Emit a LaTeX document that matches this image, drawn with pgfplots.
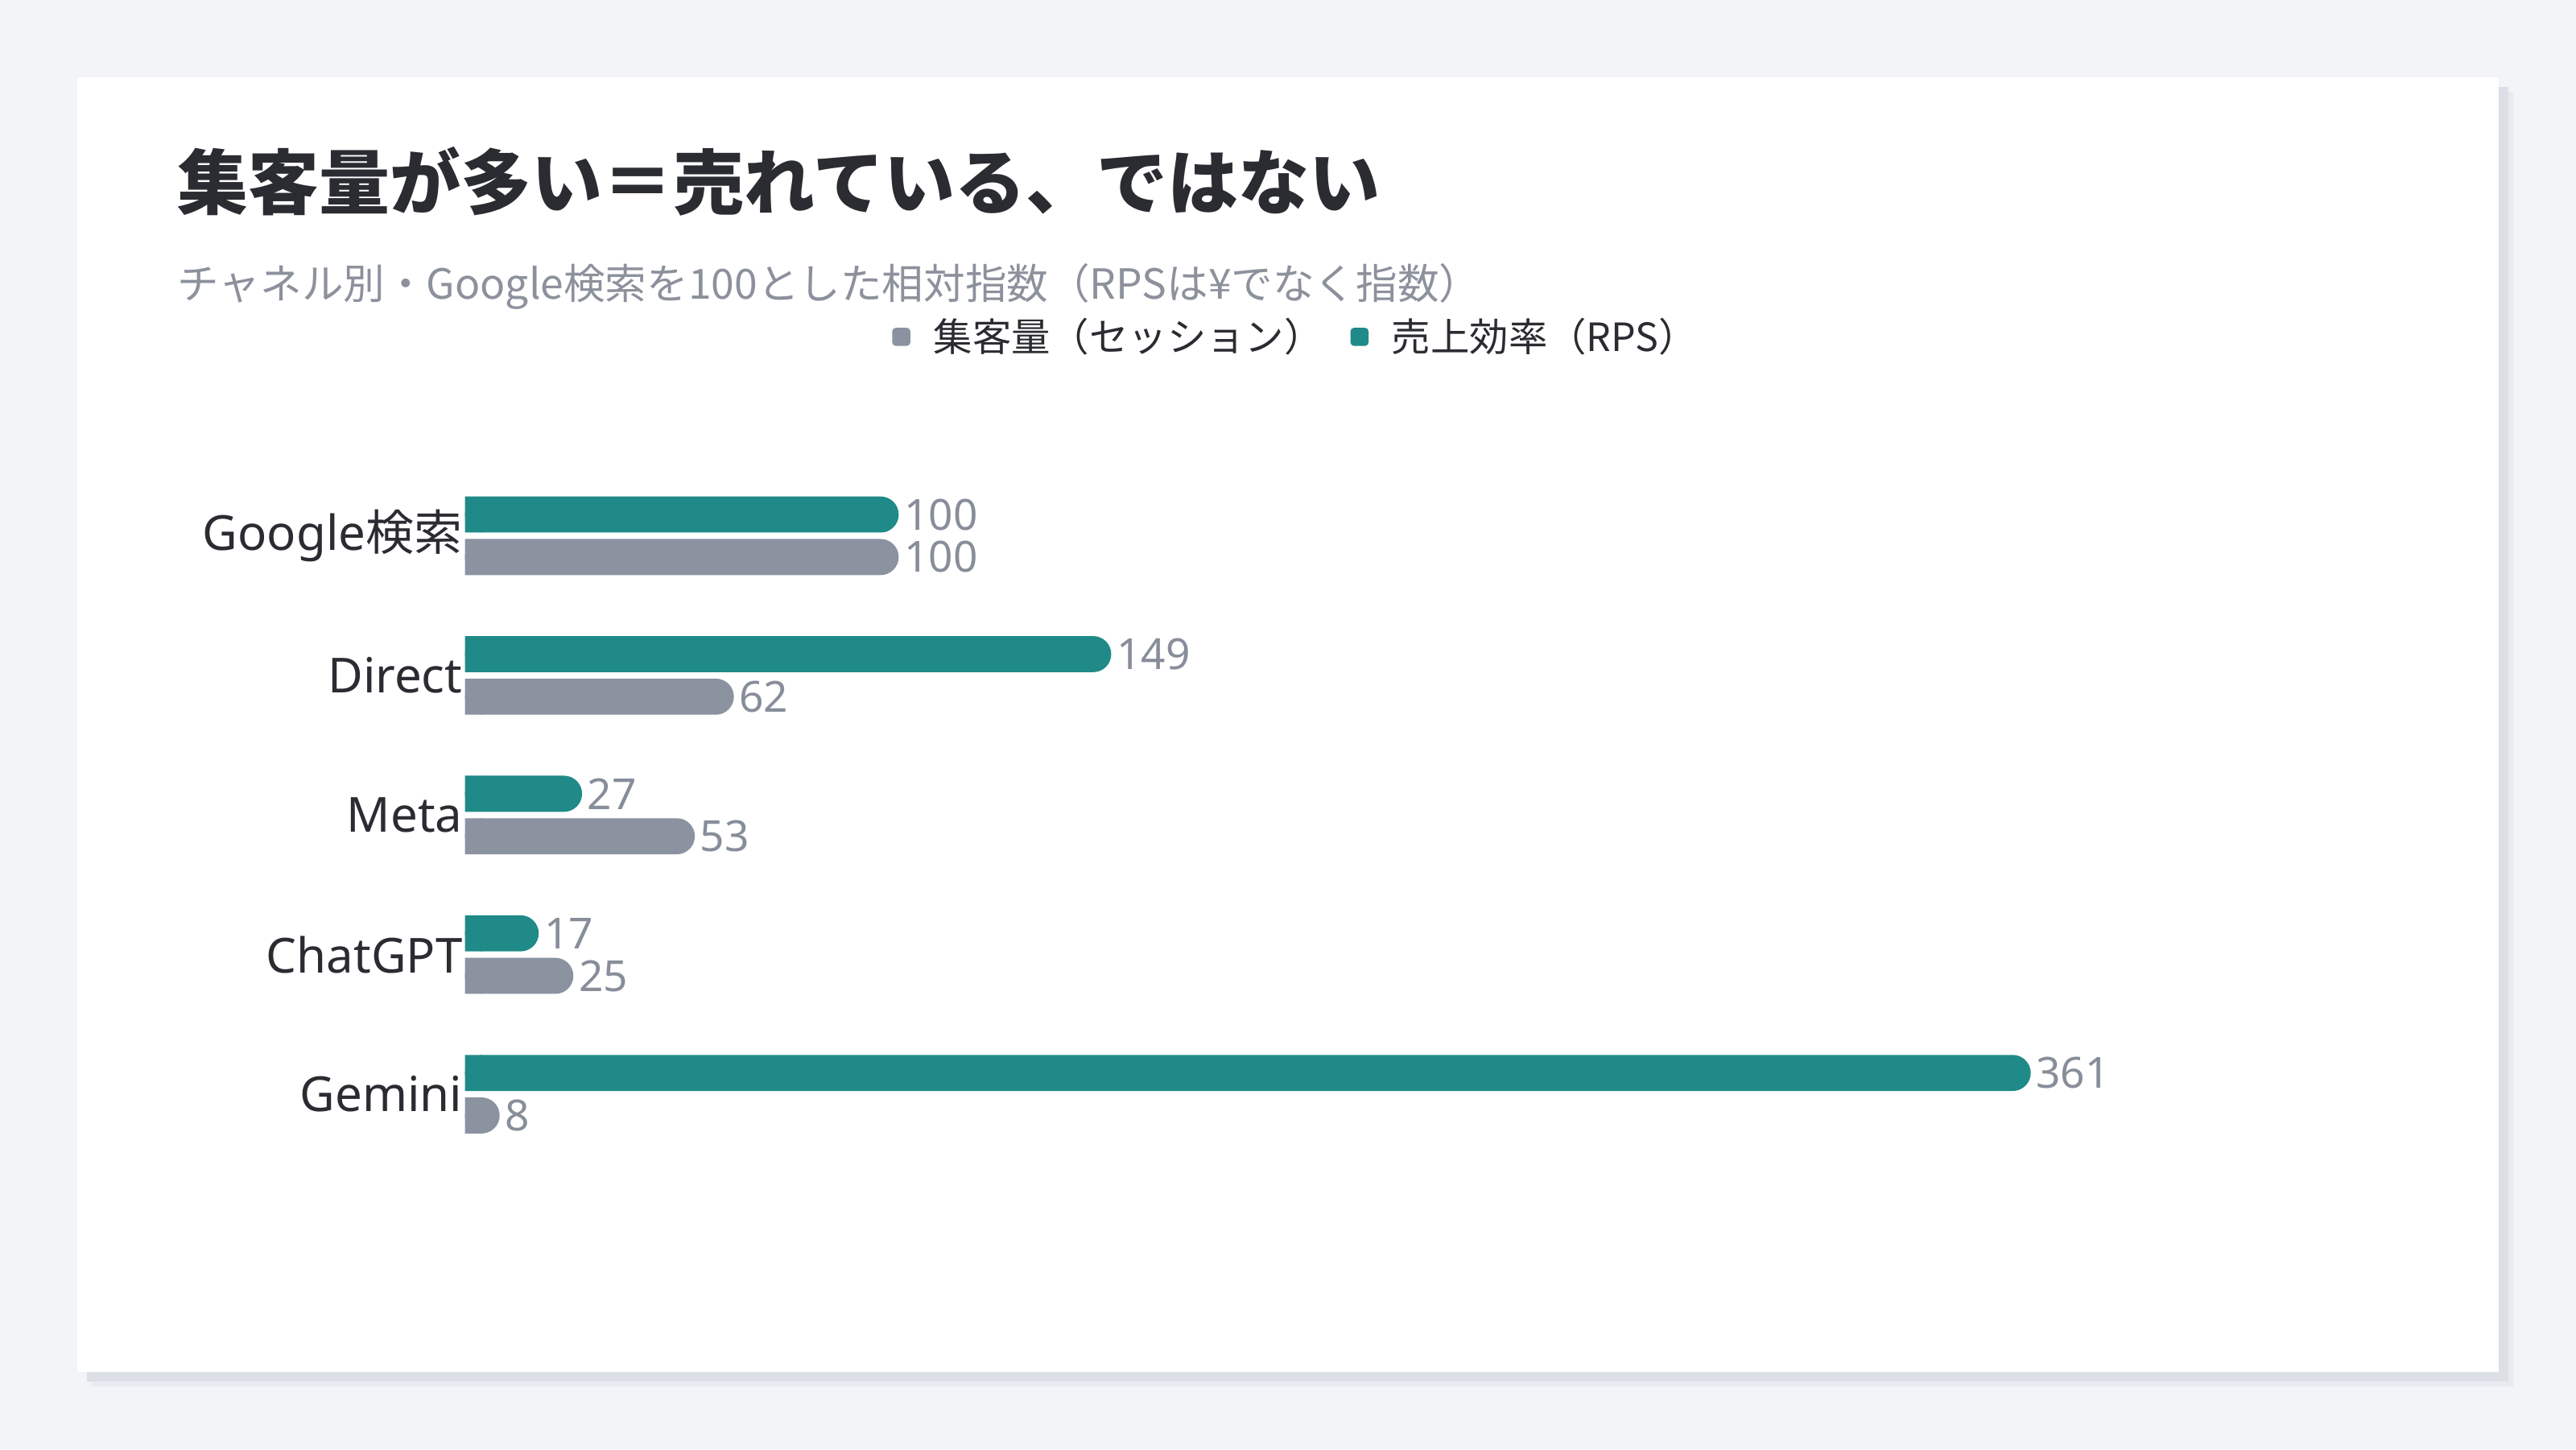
\documentclass[border=0pt]{standalone}
\usepackage{fontspec}
\setmainfont{Noto Sans}
\newfontfamily\cjk{Noto Sans CJK JP}
\usepackage{pgfplots}
\pgfplotsset{compat=1.18}

\definecolor{pagebg}{HTML}{F3F4F8}
\definecolor{shadowA}{HTML}{DCDFE6}
\definecolor{shadowB}{HTML}{E8EAEF}
\definecolor{titletext}{HTML}{2A2C31}
\definecolor{subtext}{HTML}{8C919C}
\definecolor{rpsteal}{HTML}{1F8A87}
\definecolor{sessgray}{HTML}{8B93A1}
\definecolor{valtext}{HTML}{878E9A}

\begin{document}
\begin{tikzpicture}
  % page and card
  \fill[pagebg] (0,0) rectangle (800pt,450pt);
  \fill[shadowB] (28.5pt,19.5pt) rectangle (780.5pt,421.5pt);
  \fill[shadowA] (27pt,21pt) rectangle (779pt,423pt);
  \fill[white] (24pt,24pt) rectangle (776pt,426pt);

  \node[anchor=base west, inner sep=0pt, text=titletext,
        font=\cjk\fontsize{22}{26}\selectfont\bfseries] at (55pt,385pt)
        {集客量が多い＝売れている、ではない};
  \node[anchor=base west, inner sep=0pt, text=subtext,
        font=\cjk\fontsize{12.9}{16}\selectfont] at (55pt,357pt)
        {チャネル別・Google検索を100とした相対指数（RPSは¥でなく指数）};

  \begin{axis}[
    at={(144.4pt,305.3pt)}, anchor=north west,
    scale only axis,
    width=538.8pt, height=216.75pt,
    xmin=0, xmax=400,
    ymin=-0.5, ymax=4.5,
    y dir=reverse,
    clip=false,
    axis line style={draw=none},
    xtick=\empty,
    ytick={0,1,2,3,4},
    yticklabels={Google{\cjk 検索}, Direct, Meta, ChatGPT, Gemini},
    major tick length=0pt,
    yticklabel style={font=\fontsize{15}{18}\selectfont, text=titletext,
                      inner sep=0pt, xshift=-0.6pt},
    /pgf/number format/assume math mode=true,
    bar width=11.2pt,
    legend columns=2,
    legend style={draw=none, fill=none, at={(0,1)}, anchor=west,
                  xshift=129.5pt, yshift=40.1pt,
                  font=\cjk\fontsize{12.1}{14}\selectfont, text=titletext,
                  /tikz/every odd column/.append style={column sep=5.2pt},
                  /tikz/every even column/.append style={column sep=6.5pt}},
    legend cell align=left,
  ]
    \addlegendimage{legend image code/.code={\fill[sessgray, rounded corners=0.9pt] (0pt,-2.6pt) rectangle (5.2pt,2.6pt);}}
    \addlegendentry{集客量（セッション）}
    \addlegendimage{legend image code/.code={\fill[rpsteal, rounded corners=0.9pt] (0pt,-2.6pt) rectangle (5.2pt,2.6pt);}}
    \addlegendentry{売上効率（RPS）}

    % RPS index (teal, upper bar)
    \addplot[xbar, fill=rpsteal, draw=none, bar shift=6.6pt,
             rounded corners=5.6pt,
             nodes near coords,
             every node near coord/.append style={anchor=west, inner sep=0pt,
               xshift=1.5pt, yshift=6.6pt, text=valtext,
               font=\fontsize{13.3}{16}\selectfont}]
      coordinates {(100,0) (149,1) (27,2) (17,3) (361,4)};
    % sessions index (gray, lower bar)
    \addplot[xbar, fill=sessgray, draw=none, bar shift=-6.6pt,
             rounded corners=5.6pt,
             nodes near coords,
             every node near coord/.append style={anchor=west, inner sep=0pt,
               xshift=1.5pt, yshift=-6.6pt, text=valtext,
               font=\fontsize{13.3}{16}\selectfont}]
      coordinates {(100,0) (62,1) (53,2) (25,3) (8,4)};

    % square off the left ends of the bars
    \addplot[xbar, fill=rpsteal, draw=none, bar shift=6.6pt, forget plot]
      coordinates {(4,0) (4,1) (4,2) (4,3) (4,4)};
    \addplot[xbar, fill=sessgray, draw=none, bar shift=-6.6pt, forget plot]
      coordinates {(4,0) (4,1) (4,2) (4,3) (4,4)};
  \end{axis}
\end{tikzpicture}
\end{document}
